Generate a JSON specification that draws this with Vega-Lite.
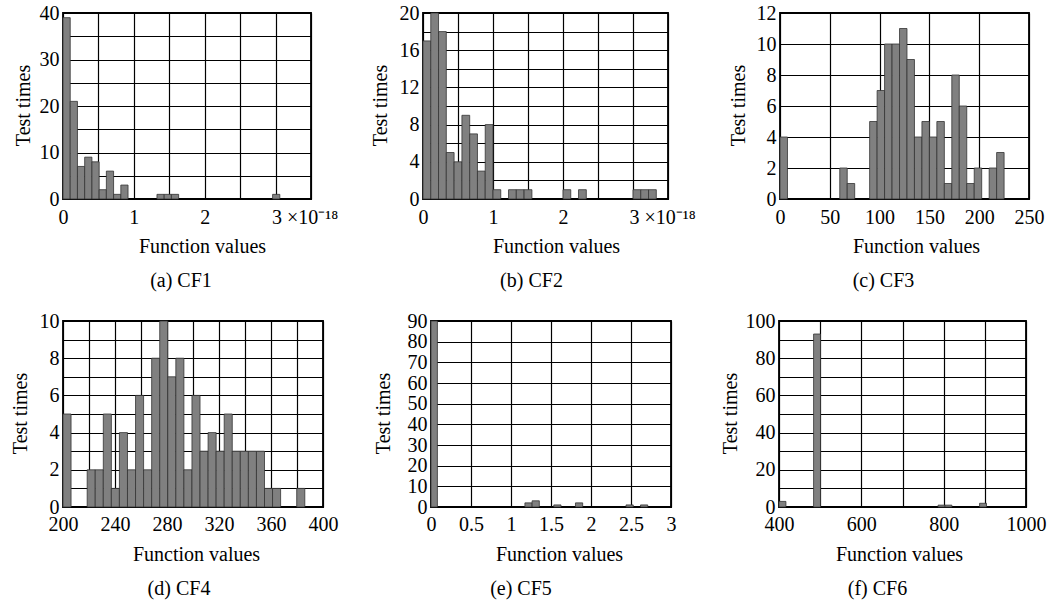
{
  "$schema": "https://vega.github.io/schema/vega-lite/v6.json",
  "background": "white",
  "padding": {"left": 9, "top": 2, "right": 5, "bottom": 5},
  "datasets": {
    "cf1": [
      {"s": 0, "e": 0.102, "n": 39}, {"s": 0.102, "e": 0.204, "n": 21}, {"s": 0.204, "e": 0.306, "n": 7},
      {"s": 0.306, "e": 0.408, "n": 9}, {"s": 0.408, "e": 0.51, "n": 8}, {"s": 0.51, "e": 0.612, "n": 2},
      {"s": 0.612, "e": 0.714, "n": 6}, {"s": 0.714, "e": 0.816, "n": 1}, {"s": 0.816, "e": 0.918, "n": 3},
      {"s": 1.326, "e": 1.428, "n": 1}, {"s": 1.428, "e": 1.53, "n": 1}, {"s": 1.53, "e": 1.632, "n": 1},
      {"s": 2.958, "e": 3.06, "n": 1}
    ],
    "cf2": [
      {"s": 0, "e": 0.111, "n": 17}, {"s": 0.111, "e": 0.222, "n": 20}, {"s": 0.222, "e": 0.333, "n": 18},
      {"s": 0.333, "e": 0.444, "n": 5}, {"s": 0.444, "e": 0.556, "n": 4}, {"s": 0.556, "e": 0.667, "n": 9},
      {"s": 0.667, "e": 0.778, "n": 7}, {"s": 0.778, "e": 0.889, "n": 3}, {"s": 0.889, "e": 1.0, "n": 8},
      {"s": 1.0, "e": 1.111, "n": 1}, {"s": 1.222, "e": 1.333, "n": 1}, {"s": 1.333, "e": 1.444, "n": 1},
      {"s": 1.444, "e": 1.556, "n": 1}, {"s": 2.0, "e": 2.111, "n": 1}, {"s": 2.222, "e": 2.333, "n": 1},
      {"s": 3.0, "e": 3.111, "n": 1}, {"s": 3.111, "e": 3.222, "n": 1}, {"s": 3.222, "e": 3.333, "n": 1}
    ],
    "cf3": [
      {"s": 0, "e": 7.5, "n": 4}, {"s": 60, "e": 67.5, "n": 2}, {"s": 67.5, "e": 75, "n": 1},
      {"s": 90, "e": 97.5, "n": 5}, {"s": 97.5, "e": 105, "n": 7}, {"s": 105, "e": 112.5, "n": 10},
      {"s": 112.5, "e": 120, "n": 10}, {"s": 120, "e": 127.5, "n": 11}, {"s": 127.5, "e": 135, "n": 9},
      {"s": 135, "e": 142.5, "n": 4}, {"s": 142.5, "e": 150, "n": 5}, {"s": 150, "e": 157.5, "n": 4},
      {"s": 157.5, "e": 165, "n": 5}, {"s": 165, "e": 172.5, "n": 1}, {"s": 172.5, "e": 180, "n": 8},
      {"s": 180, "e": 187.5, "n": 6}, {"s": 187.5, "e": 195, "n": 1}, {"s": 195, "e": 202.5, "n": 2},
      {"s": 210, "e": 217.5, "n": 2}, {"s": 217.5, "e": 225, "n": 3}
    ],
    "cf4": [
      {"s": 200, "e": 206.2, "n": 5}, {"s": 218.6, "e": 224.8, "n": 2}, {"s": 224.8, "e": 231, "n": 2},
      {"s": 231, "e": 237.2, "n": 5}, {"s": 237.2, "e": 243.4, "n": 1}, {"s": 243.4, "e": 249.6, "n": 4},
      {"s": 249.6, "e": 255.8, "n": 2}, {"s": 255.8, "e": 262, "n": 6}, {"s": 262, "e": 268.2, "n": 2},
      {"s": 268.2, "e": 274.4, "n": 8}, {"s": 274.4, "e": 280.6, "n": 10}, {"s": 280.6, "e": 286.8, "n": 7},
      {"s": 286.8, "e": 293, "n": 8}, {"s": 293, "e": 299.2, "n": 2}, {"s": 299.2, "e": 305.4, "n": 6},
      {"s": 305.4, "e": 311.6, "n": 3}, {"s": 311.6, "e": 317.8, "n": 4}, {"s": 317.8, "e": 324, "n": 3},
      {"s": 324, "e": 330.2, "n": 5}, {"s": 330.2, "e": 336.4, "n": 3}, {"s": 336.4, "e": 342.6, "n": 3},
      {"s": 342.6, "e": 348.8, "n": 3}, {"s": 348.8, "e": 355, "n": 3}, {"s": 355, "e": 361.2, "n": 1},
      {"s": 361.2, "e": 367.4, "n": 1}, {"s": 379.8, "e": 386, "n": 1}
    ],
    "cf5": [
      {"s": 0, "e": 0.08, "n": 90}, {"s": 1.174, "e": 1.264, "n": 2}, {"s": 1.264, "e": 1.354, "n": 3},
      {"s": 1.535, "e": 1.625, "n": 1}, {"s": 1.806, "e": 1.896, "n": 2}, {"s": 2.438, "e": 2.528, "n": 1},
      {"s": 2.619, "e": 2.709, "n": 1}
    ],
    "cf6": [
      {"s": 400, "e": 416.8, "n": 3}, {"s": 484, "e": 500.8, "n": 93}, {"s": 786.4, "e": 803.2, "n": 1},
      {"s": 803.2, "e": 820, "n": 1}, {"s": 887.2, "e": 904, "n": 2}
    ]
  },
  "vconcat": [
    {
      "bounds": "flush",
      "spacing": 112,
      "hconcat": [
        {
          "width": 248, "height": 186,
          "title": {"text": "(a) CF1", "dx": -6},
          "data": {"name": "cf1"},
          "mark": {"type": "bar", "fill": "#808080", "stroke": "#333333", "strokeWidth": 0.8},
          "encoding": {
            "x": {"field": "s", "type": "quantitative", "scale": {"domain": [0, 3.5], "nice": false, "zero": false},
              "axis": {"title": "Function values", "titleX": 139, "labelPadding": 8, "values": [0, 0.5, 1, 1.5, 2, 2.5, 3, 3.5],
                "labelExpr": "datum.value == 3 ? '3 ×10⁻¹⁸' : ((datum.value % 1 == 0 && datum.value < 3) ? format(datum.value, '~g') : '')",
                "labelAlign": {"condition": {"test": "datum.value == 3", "value": "left"}, "value": "center"},
                "labelOffset": {"condition": {"test": "datum.value == 3", "value": -4}, "value": 0}}},
            "x2": {"field": "e"},
            "y": {"field": "n", "type": "quantitative", "scale": {"domain": [0, 40], "nice": false},
              "axis": {"title": "Test times", "titleX": -30, "values": [0, 5, 10, 15, 20, 25, 30, 35, 40],
                "labelExpr": "datum.value % 10 == 0 ? format(datum.value, '~g') : ''"}},
            "y2": {"datum": 0}
          }
        },
        {
          "width": 245, "height": 186,
          "title": {"text": "(b) CF2", "dx": -14},
          "data": {"name": "cf2"},
          "mark": {"type": "bar", "fill": "#808080", "stroke": "#333333", "strokeWidth": 0.8},
          "encoding": {
            "x": {"field": "s", "type": "quantitative", "scale": {"domain": [0, 3.5], "nice": false, "zero": false},
              "axis": {"title": "Function values", "titleX": 133, "labelPadding": 8, "values": [0, 0.5, 1, 1.5, 2, 2.5, 3, 3.5],
                "labelExpr": "datum.value == 3 ? '3 ×10⁻¹⁸' : ((datum.value % 1 == 0 && datum.value < 3) ? format(datum.value, '~g') : '')",
                "labelAlign": {"condition": {"test": "datum.value == 3", "value": "left"}, "value": "center"},
                "labelOffset": {"condition": {"test": "datum.value == 3", "value": -4}, "value": 0}}},
            "x2": {"field": "e"},
            "y": {"field": "n", "type": "quantitative", "scale": {"domain": [0, 20], "nice": false},
              "axis": {"title": "Test times", "titleX": -33, "values": [0, 2, 4, 6, 8, 10, 12, 14, 16, 18, 20],
                "labelExpr": "datum.value % 4 == 0 ? format(datum.value, '~g') : ''"}},
            "y2": {"datum": 0}
          }
        },
        {
          "width": 249, "height": 186,
          "title": {"text": "(c) CF3", "dx": -21},
          "data": {"name": "cf3"},
          "mark": {"type": "bar", "fill": "#808080", "stroke": "#333333", "strokeWidth": 0.8},
          "encoding": {
            "x": {"field": "s", "type": "quantitative", "scale": {"domain": [0, 250], "nice": false, "zero": false},
              "axis": {"title": "Function values", "titleX": 136, "labelPadding": 8, "values": [0, 50, 100, 150, 200, 250],
                "labelExpr": "format(datum.value, '~g')"}},
            "x2": {"field": "e"},
            "y": {"field": "n", "type": "quantitative", "scale": {"domain": [0, 12], "nice": false},
              "axis": {"title": "Test times", "titleX": -32, "values": [0, 2, 4, 6, 8, 10, 12],
                "labelExpr": "format(datum.value, '~g')"}},
            "y2": {"datum": 0}
          }
        }
      ]
    },
    {
      "bounds": "flush",
      "spacing": 108,
      "hconcat": [
        {
          "width": 260, "height": 186,
          "title": {"text": "(d) CF4", "dx": -14},
          "data": {"name": "cf4"},
          "mark": {"type": "bar", "fill": "#808080", "stroke": "#333333", "strokeWidth": 0.8},
          "encoding": {
            "x": {"field": "s", "type": "quantitative", "scale": {"domain": [200, 400], "nice": false, "zero": false},
              "axis": {"title": "Function values", "titleX": 133, "values": [200, 220, 240, 260, 280, 300, 320, 340, 360, 380, 400],
                "labelExpr": "datum.value % 40 == 0 ? format(datum.value, '~g') : ''"}},
            "x2": {"field": "e"},
            "y": {"field": "n", "type": "quantitative", "scale": {"domain": [0, 10], "nice": false},
              "axis": {"title": "Test times", "titleX": -33, "values": [0, 1, 2, 3, 4, 5, 6, 7, 8, 9, 10],
                "labelExpr": "datum.value % 2 == 0 ? format(datum.value, '~g') : ''"}},
            "y2": {"datum": 0}
          }
        },
        {
          "width": 240, "height": 186,
          "title": {"text": "(e) CF5", "dx": -30},
          "data": {"name": "cf5"},
          "mark": {"type": "bar", "fill": "#808080", "stroke": "#333333", "strokeWidth": 0.8},
          "encoding": {
            "x": {"field": "s", "type": "quantitative", "scale": {"domain": [0, 3], "nice": false, "zero": false},
              "axis": {"title": "Function values", "titleX": 128, "values": [0, 0.5, 1, 1.5, 2, 2.5, 3],
                "labelExpr": "format(datum.value, '~g')"}},
            "x2": {"field": "e"},
            "y": {"field": "n", "type": "quantitative", "scale": {"domain": [0, 90], "nice": false},
              "axis": {"title": "Test times", "titleX": -38, "values": [0, 10, 20, 30, 40, 50, 60, 70, 80, 90],
                "labelExpr": "format(datum.value, '~g')"}},
            "y2": {"datum": 0}
          }
        },
        {
          "width": 247, "height": 186,
          "title": {"text": "(f) CF6", "dx": -25},
          "data": {"name": "cf6"},
          "mark": {"type": "bar", "fill": "#808080", "stroke": "#333333", "strokeWidth": 0.8},
          "encoding": {
            "x": {"field": "s", "type": "quantitative", "scale": {"domain": [400, 1000], "nice": false, "zero": false},
              "axis": {"title": "Function values", "titleX": 120, "values": [400, 500, 600, 700, 800, 900, 1000],
                "labelExpr": "datum.value % 200 == 0 ? format(datum.value, '~g') : ''"}},
            "x2": {"field": "e"},
            "y": {"field": "n", "type": "quantitative", "scale": {"domain": [0, 100], "nice": false},
              "axis": {"title": "Test times", "titleX": -39, "values": [0, 10, 20, 30, 40, 50, 60, 70, 80, 90, 100],
                "labelExpr": "datum.value % 20 == 0 ? format(datum.value, '~g') : ''"}},
            "y2": {"datum": 0}
          }
        }
      ]
    }
  ],
  "spacing": 18,
  "config": {
    "view": {"stroke": "#000000", "strokeWidth": 1.8},
    "axis": {
      "domain": false, "ticks": false, "grid": true, "gridColor": "#000000", "gridOpacity": 1, "gridWidth": 1.2,
      "labelFont": "Liberation Serif", "labelFontSize": 20, "labelColor": "#000000",
      "titleFont": "Liberation Serif", "titleFontSize": 20, "titleFontWeight": "normal", "titleColor": "#000000",
      "labelFlush": false, "labelOverlap": false
    },
    "axisX": {"labelPadding": 7, "titleBaseline": "top", "titleY": 37},
    "axisY": {"labelPadding": 4, "titleBaseline": "bottom", "titleY": 92, "titleAngle": -90},
    "title": {"font": "Liberation Serif", "fontSize": 20, "fontWeight": "normal", "color": "#000000",
      "orient": "bottom", "frame": "group", "anchor": "middle", "offset": 15}
  }
}
